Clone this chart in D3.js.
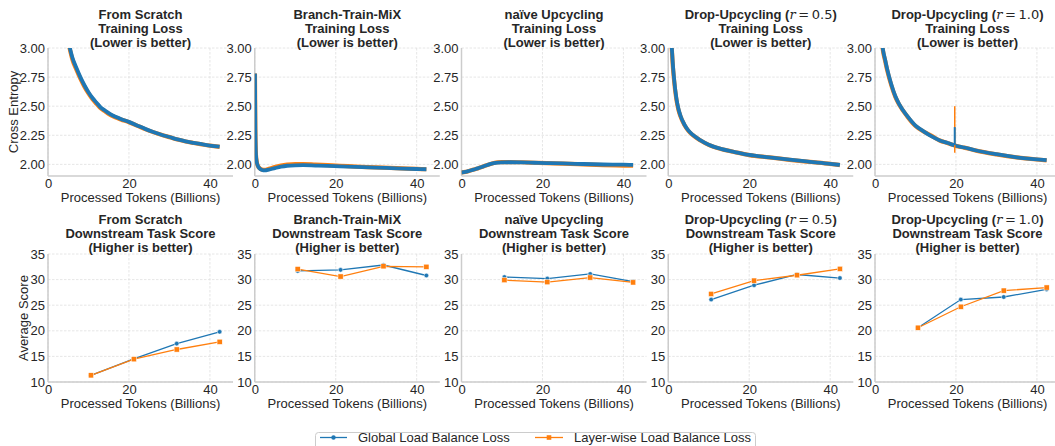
<!DOCTYPE html>
<html>
<head>
<meta charset="utf-8">
<script src="https://cdn.jsdelivr.net/npm/d3@7"></script>
<style>
  body { margin: 0; background: #fff; }
  svg { display: block; font-family: "Liberation Sans", Arial, sans-serif; }
</style>
</head>
<body>
<svg id="chart" width="1055" height="446"></svg>
<script>
// ---------------- DATA ----------------
const methods = ["From Scratch", "Branch-Train-MiX", "naïve Upcycling", "Drop-Upcycling (r = 0.5)", "Drop-Upcycling (r = 1.0)"];
const seriesNames = ["Global Load Balance Loss", "Layer-wise Load Balance Loss"];
const xTicks = [0, 20, 40];
const lossTicks = [2.00, 2.25, 2.50, 2.75, 3.00];
const scoreTicks = [10, 15, 20, 25, 30, 35];

// Training loss
const tokScratch = [5.2, 6, 7, 8, 9, 10, 11, 12, 13, 14, 15, 16, 17, 18, 20, 22, 24, 26, 28, 30, 32, 34, 36, 38, 40, 42.4];
const lossScratchGlobal = [3.03, 2.92, 2.83, 2.75, 2.68, 2.62, 2.57, 2.53, 2.49, 2.465, 2.44, 2.42, 2.405, 2.39, 2.365, 2.335, 2.305, 2.278, 2.255, 2.235, 2.215, 2.198, 2.185, 2.173, 2.162, 2.152];
const lossScratchLayer  = [3.02, 2.905, 2.815, 2.737, 2.668, 2.61, 2.56, 2.52, 2.482, 2.458, 2.434, 2.415, 2.4, 2.386, 2.362, 2.333, 2.303, 2.277, 2.254, 2.234, 2.214, 2.197, 2.184, 2.172, 2.161, 2.151];

const tokBTX = [0.05, 0.15, 0.3, 0.5, 0.8, 1.2, 1.8, 2.5, 3.5, 5, 6.5, 8, 10, 12, 15, 18, 21, 25, 30, 35, 40, 42.4];
const lossBTXGlobal = [2.78, 2.3, 2.08, 2.02, 1.985, 1.965, 1.952, 1.948, 1.955, 1.968, 1.98, 1.988, 1.992, 1.993, 1.99, 1.987, 1.983, 1.978, 1.972, 1.966, 1.96, 1.958];
const lossBTXLayer  = [2.78, 2.3, 2.08, 2.02, 1.985, 1.967, 1.955, 1.953, 1.962, 1.977, 1.99, 1.998, 2.003, 2.003, 1.998, 1.993, 1.988, 1.981, 1.974, 1.967, 1.961, 1.958];

const tokNaive = [0, 1, 2, 3, 4, 5, 6, 7, 8, 9, 10, 12, 15, 18, 21, 25, 30, 35, 40, 42.4];
const lossNaiveGlobal = [1.93, 1.935, 1.945, 1.955, 1.965, 1.977, 1.99, 2.002, 2.01, 2.015, 2.017, 2.018, 2.017, 2.014, 2.011, 2.008, 2.003, 1.999, 1.997, 1.995];
const lossNaiveLayer  = [1.93, 1.935, 1.945, 1.955, 1.965, 1.977, 1.99, 2.002, 2.012, 2.018, 2.02, 2.02, 2.018, 2.014, 2.01, 2.006, 2.0, 1.994, 1.99, 1.988];

const tokDrop05 = [0.85, 1.1, 1.4, 2, 2.5, 3, 4, 5, 6, 8, 10, 13, 16, 20, 25, 30, 35, 40, 42.4];
const lossDrop05Global = [3.02, 2.88, 2.75, 2.57, 2.48, 2.42, 2.342, 2.29, 2.255, 2.206, 2.168, 2.133, 2.11, 2.081, 2.061, 2.04, 2.022, 2.005, 1.995];
const lossDrop05Layer  = [3.01, 2.86, 2.735, 2.56, 2.472, 2.414, 2.338, 2.287, 2.253, 2.205, 2.167, 2.132, 2.109, 2.08, 2.06, 2.039, 2.021, 2.004, 1.994];

const tokDrop10 = [1.8, 2, 2.5, 3, 4, 5, 6, 8, 10, 12, 14, 16, 18, 19.5, 20, 22, 25, 30, 35, 40, 42.4];
const lossDrop10Global = [3.03, 2.98, 2.9, 2.82, 2.69, 2.588, 2.516, 2.414, 2.333, 2.284, 2.24, 2.206, 2.183, 2.165, 2.16, 2.145, 2.119, 2.087, 2.061, 2.043, 2.036];
const lossDrop10Layer  = [3.02, 2.97, 2.89, 2.81, 2.682, 2.582, 2.512, 2.41, 2.33, 2.282, 2.245, 2.205, 2.182, 2.164, 2.159, 2.144, 2.118, 2.086, 2.06, 2.042, 2.035];
const spikeTokDrop10 = [19.7, 19.7];
const spikeDrop10Global = [2.165, 2.32];
const spikeDrop10Layer = [2.10, 2.50];

// Downstream scores
const evalTokens = [10.6, 21.2, 31.8, 42.4];
const scoreScratchGlobal = [11.3, 14.5, 17.5, 19.8];
const scoreScratchLayer  = [11.3, 14.45, 16.35, 17.85];
const scoreBTXGlobal = [31.7, 31.9, 32.85, 30.8];
const scoreBTXLayer  = [32.05, 30.6, 32.6, 32.5];
const scoreNaiveGlobal = [30.5, 30.2, 31.1, 29.6];
const scoreNaiveLayer  = [29.9, 29.5, 30.4, 29.45];
const scoreDrop05Global = [26.1, 28.9, 31.0, 30.3];
const scoreDrop05Layer  = [27.2, 29.8, 30.85, 32.1];
const scoreDrop10Global = [20.6, 26.1, 26.6, 28.1];
const scoreDrop10Layer  = [20.6, 24.7, 27.85, 28.45];

const trainData = [
  [tokScratch, lossScratchGlobal, lossScratchLayer],
  [tokBTX, lossBTXGlobal, lossBTXLayer],
  [tokNaive, lossNaiveGlobal, lossNaiveLayer],
  [tokDrop05, lossDrop05Global, lossDrop05Layer],
  [tokDrop10, lossDrop10Global, lossDrop10Layer]
];
const scoreData = [
  [scoreScratchGlobal, scoreScratchLayer],
  [scoreBTXGlobal, scoreBTXLayer],
  [scoreNaiveGlobal, scoreNaiveLayer],
  [scoreDrop05Global, scoreDrop05Layer],
  [scoreDrop10Global, scoreDrop10Layer]
];

// ---------------- LAYOUT ----------------
const colors = ["#1f77b4", "#ff7f0e"];
const textColor = "#262626";
const svg = d3.select("#chart");
const panelW = 185, step = 206.75, left0 = 48;
const rows = [
  {top: 48, bottom: 176, domain: [1.9, 3.0], ticks: lossTicks, fmt: d3.format(".2f"),
   sub: "Training Loss", note: "(Lower is better)", ylabel: "Cross Entropy", ylabelX: 13, titleY: 18.5},
  {top: 254, bottom: 382, domain: [10, 35], ticks: scoreTicks, fmt: d3.format("d"),
   sub: "Downstream Task Score", note: "(Higher is better)", ylabel: "Average Score", ylabelX: 23, titleY: 223.5}
];

const defs = svg.append("defs");

function title(g, cx, y, name, row) {
  const t = g.append("text").attr("x", cx).attr("y", y).attr("text-anchor", "middle")
    .attr("font-size", 13).attr("font-weight", "bold").attr("fill", textColor);
  const m = name.match(/^(.*\()r = ([\d.]+)(\))$/);
  if (m) {
    t.append("tspan").text(m[1]);
    t.append("tspan").attr("font-style", "italic").attr("font-weight", "normal")
      .attr("font-family", "DejaVu Serif, serif").text("r");
    t.append("tspan").attr("font-weight", "normal").attr("font-family", "DejaVu Sans, sans-serif")
      .text("\u2009=\u2009" + m[2]);
    t.append("tspan").text(m[3]);
  } else {
    t.text(name);
  }
  g.append("text").attr("x", cx).attr("y", y + 14.3).attr("text-anchor", "middle")
    .attr("font-size", 13).attr("font-weight", "bold").attr("fill", textColor).text(row.sub);
  g.append("text").attr("x", cx).attr("y", y + 28.6).attr("text-anchor", "middle")
    .attr("font-size", 13).attr("font-weight", "bold").attr("fill", textColor).text(row.note);
}

rows.forEach((row, r) => {
  methods.forEach((name, i) => {
    const x0 = left0 + i * step;
    const x = d3.scaleLinear().domain([0, 45.7]).range([x0, x0 + panelW]);
    const y = d3.scaleLinear().domain(row.domain).range([row.bottom, row.top]);
    const g = svg.append("g");

    // grid
    g.selectAll(".gy").data(row.ticks).join("line")
      .attr("x1", x0).attr("x2", x0 + panelW).attr("y1", d => y(d)).attr("y2", d => y(d))
      .attr("stroke", "#e0e0e0").attr("stroke-width", 0.8).attr("stroke-dasharray", "2.5,1.5");
    g.selectAll(".gx").data(xTicks).join("line")
      .attr("x1", d => x(d)).attr("x2", d => x(d)).attr("y1", row.top).attr("y2", row.bottom)
      .attr("stroke", "#e0e0e0").attr("stroke-width", 0.8).attr("stroke-dasharray", "2.5,1.5");

    // axes (no tick marks)
    const ya = d3.axisLeft(y).tickValues(row.ticks).tickFormat(row.fmt).tickSize(0).tickPadding(3);
    const ga = g.append("g").attr("transform", `translate(${x0},0)`).call(ya);
    const xa = d3.axisBottom(x).tickValues(xTicks).tickFormat(d3.format("d")).tickSize(0).tickPadding(3);
    const gb = g.append("g").attr("transform", `translate(0,${row.bottom})`).call(xa);
    [ga, gb].forEach(a => {
      a.select(".domain").remove();
      a.selectAll("text").attr("font-size", 13).attr("fill", textColor)
        .attr("font-family", "Liberation Sans, Arial, sans-serif");
    });
    // spines
    g.append("line").attr("x1", x0).attr("x2", x0).attr("y1", row.top).attr("y2", row.bottom)
      .attr("stroke", "#cccccc").attr("stroke-width", 1.5);
    g.append("line").attr("x1", x0).attr("x2", x0 + panelW).attr("y1", row.bottom).attr("y2", row.bottom)
      .attr("stroke", "#cccccc").attr("stroke-width", 1.5);

    // x label
    g.append("text").attr("x", x0 + panelW / 2).attr("y", row.bottom + 26).attr("text-anchor", "middle")
      .attr("font-size", 13).attr("fill", textColor).text("Processed Tokens (Billions)");
    if (i === 0) {
      g.append("text").attr("transform", `translate(${row.ylabelX},${(row.top + row.bottom) / 2}) rotate(-90)`)
        .attr("text-anchor", "middle").attr("dominant-baseline", "central")
        .attr("font-size", 13).attr("fill", textColor).text(row.ylabel);
    }
    title(g, x0 + panelW / 2, row.titleY, name, row);

    // clip
    const cid = `clip-${r}-${i}`;
    defs.append("clipPath").attr("id", cid).append("rect")
      .attr("x", x0).attr("y", row.top).attr("width", panelW + 2).attr("height", row.bottom - row.top);
    const plot = g.append("g").attr("clip-path", `url(#${cid})`);

    if (r === 0) {
      const [tok, gl, lw] = trainData[i];
      const line = d3.line().x(d => x(d[0])).y(d => y(d[1])).curve(d3.curveMonotoneX);
      const ptsL = tok.map((t, k) => [t, lw[k]]);
      const ptsG = tok.map((t, k) => [t, gl[k]]);
      plot.append("path").attr("d", line(ptsL)).attr("fill", "none").attr("stroke", colors[1])
        .attr("stroke-width", 4.2).attr("stroke-linejoin", "round");
      plot.append("path").attr("d", line(ptsG)).attr("fill", "none").attr("stroke", colors[0])
        .attr("stroke-width", 3.8).attr("stroke-linejoin", "round");
      if (i === 4) {
        const sl = d3.line().x(d => x(d[0])).y(d => y(d[1]));
        plot.append("path").attr("d", sl(spikeTokDrop10.map((t, k) => [t, spikeDrop10Layer[k]])))
          .attr("stroke", colors[1]).attr("stroke-width", 1.5).attr("fill", "none");
        plot.append("path").attr("d", sl(spikeTokDrop10.map((t, k) => [t, spikeDrop10Global[k]])))
          .attr("stroke", colors[0]).attr("stroke-width", 2).attr("fill", "none");
      }
    } else {
      const [gl, lw] = scoreData[i];
      const line = d3.line().x(d => x(d[0])).y(d => y(d[1]));
      [gl, lw].forEach((vals, s) => {
        const pts = evalTokens.map((t, k) => [t, vals[k]]);
        g.append("path").attr("d", line(pts)).attr("fill", "none").attr("stroke", colors[s]).attr("stroke-width", 1.3);
        if (s === 0) {
          g.selectAll(null).data(pts).join("circle").attr("cx", d => x(d[0])).attr("cy", d => y(d[1]))
            .attr("r", 2.3).attr("fill", colors[0]).attr("stroke", "#fff").attr("stroke-width", 0.5);
        } else {
          g.selectAll(null).data(pts).join("rect").attr("x", d => x(d[0]) - 2.6).attr("y", d => y(d[1]) - 2.6)
            .attr("width", 5.2).attr("height", 5.2).attr("fill", colors[1]).attr("stroke", "#fff").attr("stroke-width", 0.5);
        }
      });
    }
  });
});

// ---------------- LEGEND ----------------
const lg = svg.append("g");
lg.append("rect").attr("x", 315.5).attr("y", 432.5).attr("width", 440).attr("height", 22).attr("rx", 3)
  .attr("fill", "#fff").attr("stroke", "#cccccc").attr("stroke-width", 1);
const legendItems = [{x1: 320, x2: 347, tx: 358}, {x1: 535, x2: 563, tx: 574}];
legendItems.forEach((it, s) => {
  const yy = 437.5;
  lg.append("line").attr("x1", it.x1).attr("x2", it.x2).attr("y1", yy).attr("y2", yy)
    .attr("stroke", colors[s]).attr("stroke-width", 1.3);
  const cx = (it.x1 + it.x2) / 2;
  if (s === 0) lg.append("circle").attr("cx", cx).attr("cy", yy).attr("r", 2.2).attr("fill", colors[0]);
  else lg.append("rect").attr("x", cx - 2.3).attr("y", yy - 2.3).attr("width", 4.6).attr("height", 4.6).attr("fill", colors[1]);
  lg.append("text").attr("x", it.tx).attr("y", yy).attr("dominant-baseline", "central")
    .attr("font-size", 13).attr("fill", textColor).text(seriesNames[s]);
});
</script>
</body>
</html>
